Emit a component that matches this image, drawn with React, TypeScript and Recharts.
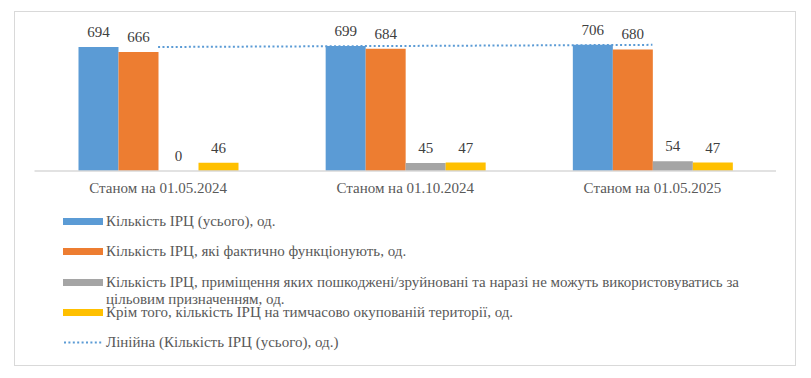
import React from 'react';
import { ComposedChart, Bar, Line, XAxis, YAxis, LabelList } from 'recharts';

// Стан мережі ІРЦ на три дати
const categories = ['Станом на 01.05.2024', 'Станом на 01.10.2024', 'Станом на 01.05.2025'];
const totalCount = [694, 699, 706];
const workingCount = [666, 684, 680];
const damagedCount = [0, 45, 54];
const occupiedCount = [46, 47, 47];
// лінійний тренд загальної кількості
const totalTrend = [693.7, 699.7, 705.7];

const seriesNames = [
  'Кількість ІРЦ (усього), од.',
  'Кількість ІРЦ, які фактично функціонують, од.',
  'Кількість ІРЦ, приміщення яких пошкоджені/зруйновані та наразі не можуть використовуватись за цільовим призначенням, од.',
  'Крім того, кількість ІРЦ на тимчасово окупованій території, од.',
];
const trendName = 'Лінійна (Кількість ІРЦ (усього), од.)';
const seriesColors = ['#5B9BD5', '#ED7D31', '#A5A5A5', '#FFC000'];
const seriesKeys = ['total', 'working', 'damaged', 'occupied'];

const FONT = "'Liberation Serif', serif";

const data = categories.map((name, i) => ({
  name,
  total: totalCount[i],
  working: workingCount[i],
  damaged: damagedCount[i],
  occupied: occupiedCount[i],
  trend: totalTrend[i],
}));

// підпис значення над стовпчиком (показує й нульові значення)
function ValueLabel(props: any) {
  const { x, y, width, height, value } = props;
  if (value == null) return null;
  const top = Math.min(Number(y), Number(y) + Number(height));
  return (
    <text
      x={Number(x) + Number(width) / 2}
      y={top - 10}
      textAnchor="middle"
      fill="#404040"
      fontSize={15}
      fontFamily={FONT}
    >
      {value}
    </text>
  );
}

function ChartLegend() {
  return (
    <div style={{ position: 'absolute', left: 63, top: 213, fontFamily: FONT, fontSize: 15, color: '#595959' }}>
      {seriesNames.map((label, i) => (
        <div key={label} style={{ display: 'flex', alignItems: 'flex-start', height: 30.3 }}>
          <div style={{ width: 40, height: 7, marginTop: 5, background: seriesColors[i], flexShrink: 0 }} />
          <div style={{ marginLeft: 3, lineHeight: '17px', width: 665, whiteSpace: 'normal' }}>{label}</div>
        </div>
      ))}
      <div style={{ display: 'flex', alignItems: 'flex-start', height: 30.3 }}>
        <svg width={40} height={17} style={{ flexShrink: 0 }}>
          <line x1={1} y1={8.5} x2={40} y2={8.5} stroke="#5B9BD5" strokeWidth={2} strokeDasharray="2 2.4" />
        </svg>
        <div style={{ marginLeft: 3, lineHeight: '17px' }}>{trendName}</div>
      </div>
    </div>
  );
}

export default function App() {
  return (
    <div style={{ position: 'absolute', left: 0, top: 0, width: 811, height: 378, background: '#fff' }}>
      <div
        style={{
          position: 'absolute',
          left: 14,
          top: 11,
          width: 780,
          height: 353,
          border: '1.5px solid #d9d9d9',
        }}
      />
      <div style={{ position: 'absolute', left: 0, top: 0 }}>
        <ComposedChart
          width={811}
          height={210}
          data={data}
          margin={{ top: 28, right: 35, bottom: 0, left: 34.5 }}
          barGap={0}
          barSize={40}
        >
          <XAxis
            dataKey="name"
            axisLine={{ stroke: '#d9d9d9', strokeWidth: 1.5 }}
            tickLine={false}
            height={39}
            tickMargin={5}
            tick={{ fill: '#595959', fontSize: 15, fontFamily: FONT }}
          />
          <YAxis hide domain={[0, 800]} />
          {seriesKeys.map((key, i) => (
            <Bar
              key={key}
              dataKey={key}
              name={seriesNames[i]}
              fill={seriesColors[i]}
              minPointSize={0.01}
              isAnimationActive={false}
            >
              <LabelList dataKey={key} content={<ValueLabel />} />
            </Bar>
          ))}
          <Line
            dataKey="trend"
            name={trendName}
            type="linear"
            stroke="#5B9BD5"
            strokeWidth={2}
            strokeDasharray="2 2.4"
            dot={false}
            activeDot={false}
            isAnimationActive={false}
          />
        </ComposedChart>
      </div>
      <ChartLegend />
    </div>
  );
}
